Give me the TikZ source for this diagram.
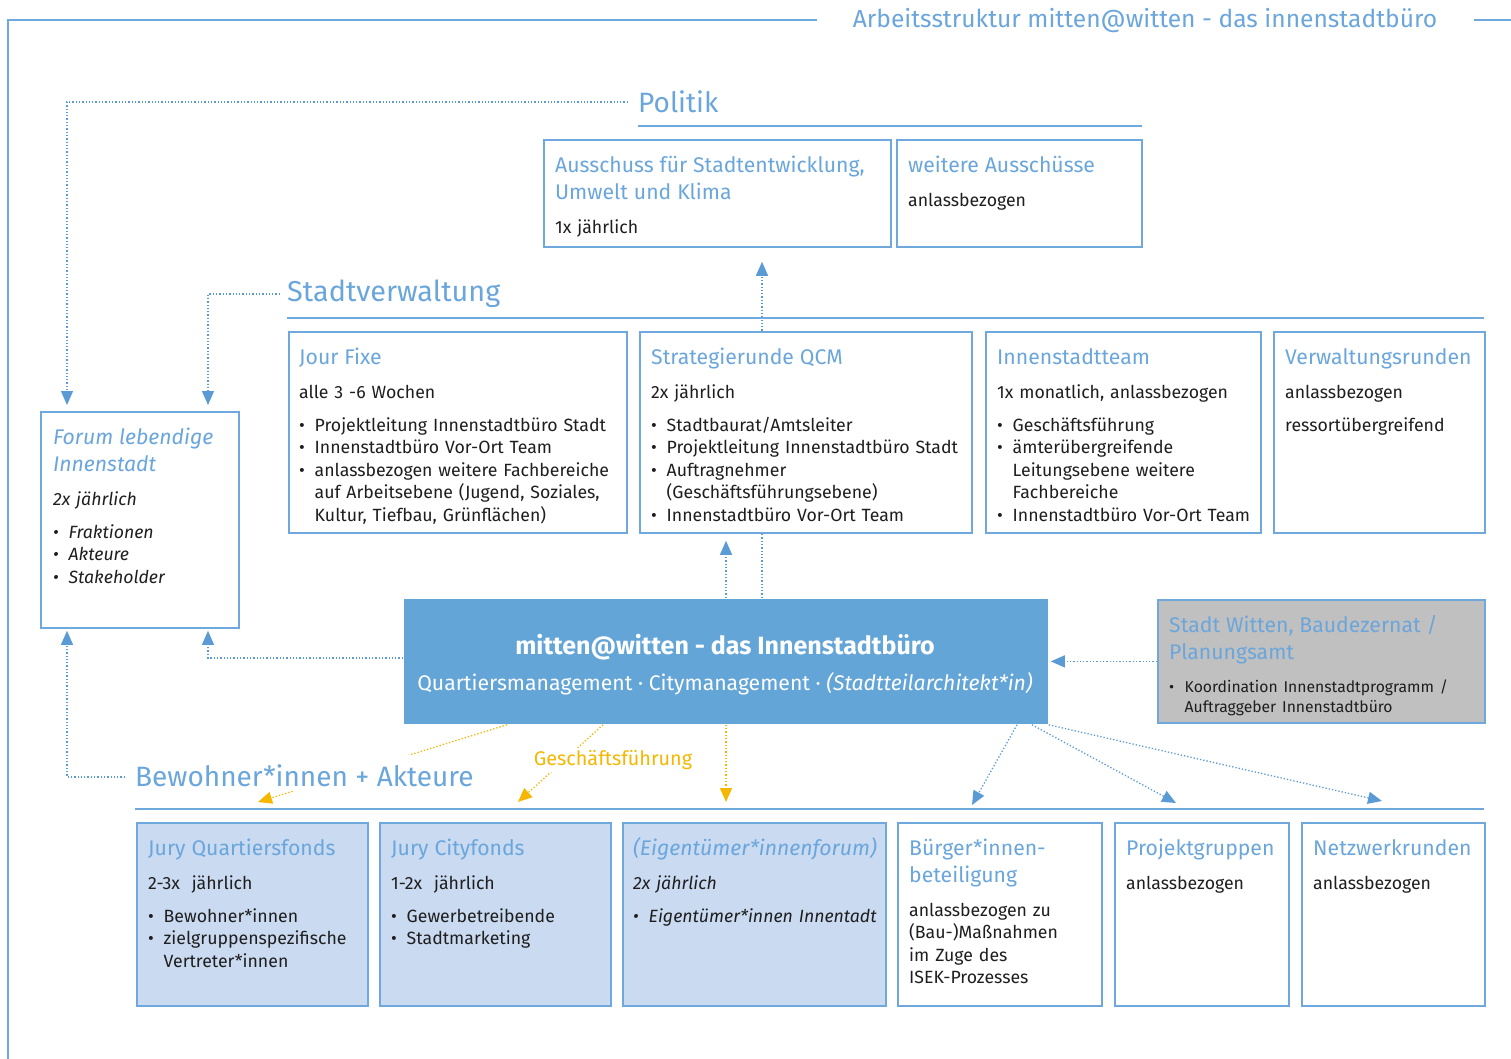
\documentclass[tikz,border=0pt]{standalone}
\usepackage{fontspec}
\setmainfont{Fira Sans}
\usetikzlibrary{arrows.meta}
\pgfdeclarelayer{bg}
\pgfsetlayers{bg,main}
\definecolor{bl}{HTML}{5B9BD5}
\definecolor{hd}{HTML}{6AA6DC}
\definecolor{sepc}{HTML}{6FA8DC}
\definecolor{cbox}{HTML}{64A5D8}
\definecolor{lfill}{HTML}{C9DAF1}
\definecolor{gfill}{HTML}{C0C0C0}
\definecolor{og}{HTML}{F5B700}
\definecolor{txt}{HTML}{1E1E1E}
\setlength\parindent{0pt}
\newcommand\hdf{\fontsize{21.2}{27}\selectfont\color{hd}}
\newcommand\bdf{\fontsize{17.7}{22.5}\selectfont}
\newcommand\hgap{\par\vspace{11.5pt}}
\newcommand\bgap{\par\vspace{10.5pt}}
\newcommand\bul[1]{\par\hangindent=15.5pt\hangafter=1\noindent\makebox[15.5pt][l]{\textbullet}#1}
\newcommand\hd[1]{{\hdf\strut #1\par}}
\begin{document}
\begin{tikzpicture}[x=1pt,y=-1pt,
  box/.style={draw=sepc,line width=1.8pt,fill=white,inner sep=0,anchor=north west},
  lbox/.style={box,fill=lfill},
  gbox/.style={box,fill=gfill},
  tx/.style={anchor=north west,inner sep=0,align=left,text width=#1,text=txt,font=\bdf},
  con/.style={draw=bl,line width=1.3pt,dash pattern=on 1.3pt off 2pt,-{Triangle[length=14pt,width=12pt]}},
  ocon/.style={con,draw=og},
  sep/.style={draw=sepc,line width=2pt},
  lab/.style={inner sep=0,text=hd,font=\fontsize{28}{34}\selectfont}]
\useasboundingbox (0,0) rectangle (1511,1059);
% frame and title
\draw[sep] (8,1059) -- (8,20) -- (817,20);
\draw[sep] (1474,20) -- (1511,20);
\node[font=\fontsize{24.6}{30}\selectfont,text=hd,inner sep=0] (title) at (1145,21) {Arbeitsstruktur mitten@witten - das innenstadtbüro};
% section labels and rules
\node[lab,anchor=west,inner xsep=10pt] (pol) at (628,102) {Politik};
\draw[sep] (638,126) -- (1142,126);
\node[lab,anchor=west,inner xsep=7pt,font=\fontsize{28.8}{34}\selectfont] (sv) at (280,294) {Stadtverwaltung};
\draw[sep] (287,318) -- (1484,318);
\draw[sep] (135,809) -- (1484,809);
% Politik boxes
\node[box,minimum width=347pt,minimum height=107pt] (ps1) at (543,139) {};
\node[tx=335pt] (ps1t) at (555,153) {\hd{Ausschuss für Stadtentwicklung,\newline Umwelt und Klima}\hgap 1x jährlich\par};
\node[box,minimum width=245pt,minimum height=107pt] (ps2) at (896,139) {};
\node[tx=235pt] (ps2t) at (908,153) {\hd{weitere Ausschüsse}\hgap anlassbezogen\par};
% Stadtverwaltung boxes
\node[box,minimum width=338pt,minimum height=201pt] (jf) at (288,331) {};
\node[tx=335pt] (jft) at (299,345) {\hd{Jour Fixe}\hgap alle 3 -6 Wochen\bgap\bul{Projektleitung Innenstadtbüro Stadt}\bul{Innenstadtbüro Vor-Ort Team}\bul{anlassbezogen weitere Fachbereiche\newline auf Arbeitsebene (Jugend, Soziales,\newline Kultur, Tiefbau, Grünflächen)}\par};
\node[box,minimum width=332pt,minimum height=201pt] (sr) at (639,331) {};
\node[tx=330pt] (srt) at (651,345) {\hd{Strategierunde QCM}\hgap 2x jährlich\bgap\bul{Stadtbaurat/Amtsleiter}\bul{Projektleitung Innenstadtbüro Stadt}\bul{Auftragnehmer\newline (Geschäftsführungsebene)}\bul{Innenstadtbüro Vor-Ort Team}\par};
\node[box,minimum width=275pt,minimum height=201pt] (it) at (985,331) {};
\node[tx=275pt] (itt) at (997,345) {\hd{Innenstadtteam}\hgap 1x monatlich, anlassbezogen\bgap\bul{Geschäftsführung}\bul{ämterübergreifende\newline Leitungsebene weitere\newline Fachbereiche}\bul{Innenstadtbüro Vor-Ort Team}\par};
\node[box,minimum width=211pt,minimum height=201pt] (vr) at (1273,331) {};
\node[tx=215pt] (vrt) at (1285,345) {\hd{Verwaltungsrunden}\hgap anlassbezogen\bgap ressortübergreifend\par};
% Forum
\node[box,minimum width=198pt,minimum height=216pt] (forum) at (40,411) {};
\node[tx=190pt] (forumt) at (53,425) {\itshape\hd{Forum lebendige\newline Innenstadt}\hgap 2x jährlich\bgap\bul{Fraktionen}\bul{Akteure}\bul{Stakeholder}\par};
% centre box
\node[box,draw=none,fill=cbox,minimum width=644pt,minimum height=125pt] (center) at (403,598) {};
\node[font=\fontsize{25}{30}\selectfont\bfseries,text=white,inner sep=0] (ct1) at (725,647) {mitten@witten - das Innenstadtbüro};
\node[font=\fontsize{21.2}{26}\selectfont,text=white,inner sep=0] (ct2) at (725,684) {Quartiersmanagement · Citymanagement · \textit{(Stadtteilarchitekt*in)}};
% grey box
\node[gbox,minimum width=327pt,minimum height=123pt] (gray) at (1157,599) {};
\node[tx=320pt] (grayt) at (1169,613) {\hd{Stadt Witten, Baudezernat /\newline Planungsamt}\par\vspace{13pt}{\fontsize{15.7}{20}\selectfont\bul{Koordination Innenstadtprogramm /\newline Auftraggeber Innenstadtbüro}\par}};
% bottom boxes
\node[lbox,minimum width=231pt,minimum height=183pt] (jq) at (136,822) {};
\node[tx=225pt] (jqt) at (148,836) {\hd{Jury Quartiersfonds}\hgap 2-3x\ \ jährlich\bgap\bul{Bewohner*innen}\bul{zielgruppenspezifische\newline Vertreter*innen}\par};
\node[lbox,minimum width=231pt,minimum height=183pt] (jc) at (379,822) {};
\node[tx=225pt] (jct) at (391,836) {\hd{Jury Cityfonds}\hgap 1-2x\ \ jährlich\bgap\bul{Gewerbetreibende}\bul{Stadtmarketing}\par};
\node[lbox,minimum width=263pt,minimum height=183pt] (et) at (622,822) {};
\node[tx=260pt] (ett) at (633,836) {\itshape\hd{(Eigentümer*innenforum)}\hgap 2x jährlich\bgap\bul{Eigentümer*innen Innentadt}\par};
\node[box,minimum width=204pt,minimum height=183pt] (bb) at (897,822) {};
\node[tx=200pt] (bbt) at (909,836) {\hd{Bürger*innen-\newline beteiligung}\hgap anlassbezogen zu\newline (Bau-)Maßnahmen\newline im Zuge des\newline ISEK-Prozesses\par};
\node[box,minimum width=174pt,minimum height=183pt] (pg) at (1114,822) {};
\node[tx=170pt] (pgt) at (1126,836) {\hd{Projektgruppen}\hgap anlassbezogen\par};
\node[box,minimum width=183pt,minimum height=183pt] (nw) at (1301,822) {};
\node[tx=180pt] (nwt) at (1313,836) {\hd{Netzwerkrunden}\hgap anlassbezogen\par};
% free ends
\coordinate (o1) at (258,802);
\coordinate (o2) at (518,802);
\coordinate (o3) at (726,802);
\coordinate (b1) at (972,805);
\coordinate (b2) at (1176,803);
\coordinate (b3) at (1382,801);
% connectors behind
\begin{pgfonlayer}{bg}
\draw[con,shorten >=14pt] (center.north -| 762,0) -- (ps1.south -| 762,0);
\draw[ocon] (center.south -| 507,0) -- (o1);
\draw[ocon] (center.south -| 603,0) -- (o2);
\end{pgfonlayer}
% labels on top of lines
\node[lab,anchor=west,inner xsep=10pt,inner ysep=2pt,text height=30pt,text depth=2pt,fill=white] (bw) at (125,772.75) {Bewohner*innen + Akteure};
\node[font=\fontsize{19.8}{24}\selectfont,text=og,fill=white,inner sep=2pt] (gf) at (613,760) {Geschäftsführung};
% connectors
\draw[con,shorten >=6pt] (pol.west) -- (67,102) -- (forum.north -| 67,0);
\draw[con,shorten >=6pt] (sv.west) -- (208,294) -- (forum.north -| 208,0);
\draw[con,shorten >=2pt] (center.west |- 0,658) -- (208,658) -- (forum.south -| 208,0);
\draw[con,shorten >=2pt] (bw.west |- 0,777) -- (67,777) -- (forum.south -| 67,0);
\draw[con,shorten >=2pt] (gray.west) -- (center.east);
\draw[con,shorten >=7pt] (center.north -| 726,0) -- (sr.south -| 726,0);
\draw[ocon] (center.south -| 726,0) -- (o3);
\draw[con] (center.south -| 1017,0) -- (b1);
\draw[con] (center.south -| 1032,0) -- (b2);
\draw[con] (center.south east) -- (b3);
\end{tikzpicture}
\end{document}
